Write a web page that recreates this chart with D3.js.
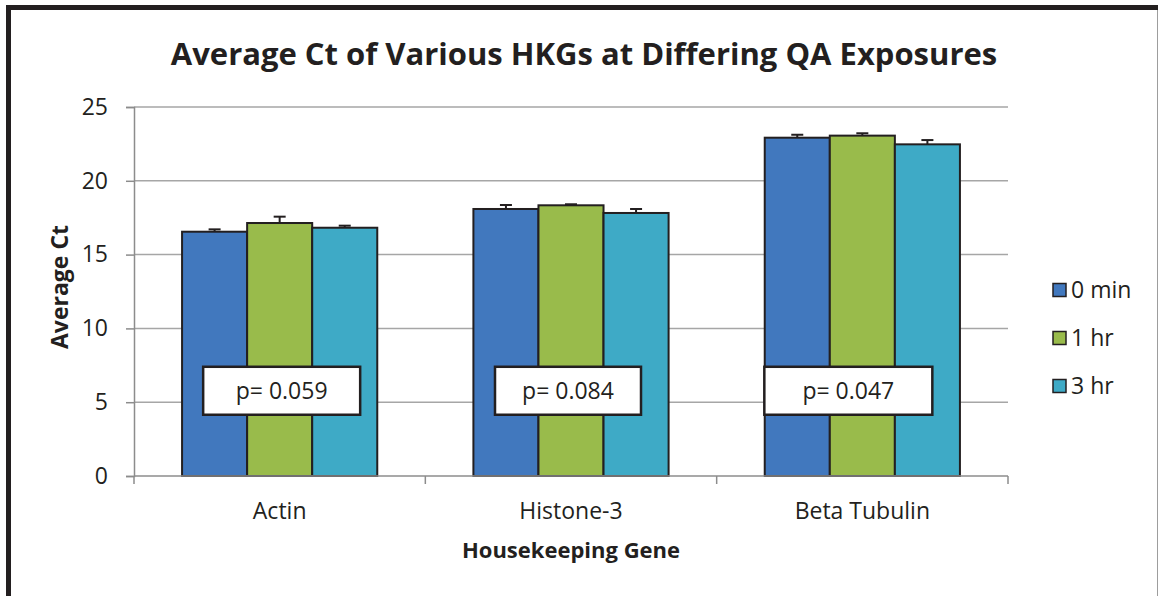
<!DOCTYPE html>
<html>
<head>
<meta charset="utf-8">
<script src="https://cdn.jsdelivr.net/npm/d3@7"></script>
<style>
  html, body { margin: 0; padding: 0; background: #fff; }
  svg { display: block; }
  text { font-family: "Open Sans", "Noto Sans", sans-serif; fill: #231f20; }
</style>
</head>
<body>
<svg id="chart" width="1158" height="596"></svg>
<script>
// ---- data ----
const categories = ["Actin", "Histone-3", "Beta Tubulin"];
const seriesNames = ["0 min", "1 hr", "3 hr"];
const values0min = [16.55, 18.09, 22.92];
const values1hr  = [17.14, 18.34, 23.06];
const values3hr  = [16.82, 17.82, 22.47];
const errors0min = [0.16, 0.27, 0.20];
const errors1hr  = [0.43, 0.07, 0.16];
const errors3hr  = [0.14, 0.27, 0.29];
const pValues = ["p= 0.059", "p= 0.084", "p= 0.047"];
const yTicks = [0, 5, 10, 15, 20, 25];

const colors = ["#4178be", "#99bb4b", "#3eaac6"];
const seriesValues = [values0min, values1hr, values3hr];
const seriesErrors = [errors0min, errors1hr, errors3hr];

const svg = d3.select("#chart");
const W = 1158, H = 596;
const plot = { left: 134, right: 1008, top: 107, bottom: 476 };

// frame
svg.append("line").attr("x1", 6).attr("x2", 1158).attr("y1", 7.5).attr("y2", 7.5)
  .attr("stroke", "#231f20").attr("stroke-width", 5);
svg.append("line").attr("x1", 8.5).attr("x2", 8.5).attr("y1", 5).attr("y2", H)
  .attr("stroke", "#231f20").attr("stroke-width", 5);
svg.append("line").attr("x1", 1157.5).attr("x2", 1157.5).attr("y1", 10).attr("y2", H)
  .attr("stroke", "#9d9d9d").attr("stroke-width", 1);

// scales
const x = d3.scaleBand().domain(categories).range([plot.left, plot.right])
  .paddingInner(0.33).paddingOuter(0.165);
const xs = d3.scaleBand().domain(seriesNames).range([0, x.bandwidth()]);
const y = d3.scaleLinear().domain([0, 25]).range([plot.bottom, plot.top]);

// gridlines
svg.append("g").selectAll("line").data(yTicks.filter(d => d > 0)).join("line")
  .attr("x1", plot.left).attr("x2", plot.right)
  .attr("y1", d => y(d)).attr("y2", d => y(d))
  .attr("stroke", "#a6a6a6").attr("stroke-width", 1.5);

// y axis
const yAxis = svg.append("g").attr("transform", `translate(${plot.left},0)`)
  .call(d3.axisLeft(y).tickValues(yTicks).tickSize(8).tickPadding(18));
yAxis.select(".domain").attr("stroke", "#8c8c8c").attr("stroke-width", 1.5);
yAxis.selectAll(".tick line").attr("stroke", "#8c8c8c").attr("stroke-width", 1.5);
yAxis.selectAll(".tick text").style("font-size", "23px").attr("fill", "#231f20")
  .style("font-family", "'Open Sans', sans-serif");

// bars
const barData = [];
categories.forEach((c, i) => {
  seriesNames.forEach((s, j) => {
    barData.push({ cat: c, ser: s, v: seriesValues[j][i], e: seriesErrors[j][i], color: colors[j] });
  });
});
const gBars = svg.append("g");
gBars.selectAll("rect").data(barData).join("rect")
  .attr("x", d => x(d.cat) + xs(d.ser))
  .attr("y", d => y(d.v))
  .attr("width", xs.bandwidth())
  .attr("height", d => y(0) - y(d.v))
  .attr("fill", d => d.color)
  .attr("stroke", "#231f20").attr("stroke-width", 2);

// error bars
const gErr = svg.append("g").attr("stroke", "#231f20").attr("stroke-width", 2);
barData.forEach(d => {
  const cx = x(d.cat) + xs(d.ser) + xs.bandwidth() / 2;
  gErr.append("line").attr("x1", cx).attr("x2", cx).attr("y1", y(d.v)).attr("y2", y(d.v + d.e));
  gErr.append("line").attr("x1", cx - 6).attr("x2", cx + 6).attr("y1", y(d.v + d.e)).attr("y2", y(d.v + d.e));
});

// x axis
const xAxisLine = svg.append("g");
xAxisLine.append("line").attr("x1", plot.left).attr("x2", plot.right)
  .attr("y1", plot.bottom).attr("y2", plot.bottom)
  .attr("stroke", "#8c8c8c").attr("stroke-width", 1.5);
const boundaries = [plot.left].concat(categories.map(c => x(c) + x.bandwidth() + x.step() * x.paddingInner() / 2));
xAxisLine.selectAll("line.tk").data(boundaries).join("line").attr("class", "tk")
  .attr("x1", d => d).attr("x2", d => d).attr("y1", plot.bottom).attr("y2", plot.bottom + 8)
  .attr("stroke", "#8c8c8c").attr("stroke-width", 1.5);
svg.append("g").selectAll("text").data(categories).join("text")
  .attr("x", d => x(d) + x.bandwidth() / 2).attr("y", 519)
  .attr("text-anchor", "middle").style("font-size", "23px").text(d => d);

// p-value boxes (annotation layout)
const pBoxOffsets = [2, -3, -14];
const pBoxWidths = [157, 146, 168];
const pBoxTopVal = 7.4, pBoxBottomVal = 4.15;
const gP = svg.append("g");
categories.forEach((c, i) => {
  const cx = x(c) + x.bandwidth() / 2 + pBoxOffsets[i];
  gP.append("rect").attr("x", cx - pBoxWidths[i] / 2).attr("y", y(pBoxTopVal))
    .attr("width", pBoxWidths[i]).attr("height", y(pBoxBottomVal) - y(pBoxTopVal))
    .attr("fill", "#fff").attr("stroke", "#231f20").attr("stroke-width", 2.5);
  gP.append("text").attr("x", cx).attr("y", (y(pBoxTopVal) + y(pBoxBottomVal)) / 2 + 8)
    .attr("text-anchor", "middle").style("font-size", "23px").text(pValues[i]);
});

// title
svg.append("text").attr("x", 584).attr("y", 65).attr("text-anchor", "middle")
  .style("font-size", "31px").style("font-weight", "bold")
  .text("Average Ct of Various HKGs at Differing QA Exposures");

// axis titles
svg.append("text").attr("x", 571).attr("y", 558).attr("text-anchor", "middle")
  .style("font-size", "22px").style("font-weight", "bold").text("Housekeeping Gene");
svg.append("text").attr("transform", "translate(68,287) rotate(-90)").attr("text-anchor", "middle")
  .style("font-size", "23px").style("font-weight", "bold").text("Average Ct");

// legend
const legend = svg.append("g");
seriesNames.forEach((s, i) => {
  const cy = 290 + i * 48;
  legend.append("rect").attr("x", 1053).attr("y", cy - 6.5).attr("width", 13).attr("height", 13)
    .attr("fill", colors[i]).attr("stroke", "#231f20").attr("stroke-width", 1.5);
  legend.append("text").attr("x", 1071).attr("y", cy + 8).style("font-size", "23px").text(s);
});
</script>
</body>
</html>
